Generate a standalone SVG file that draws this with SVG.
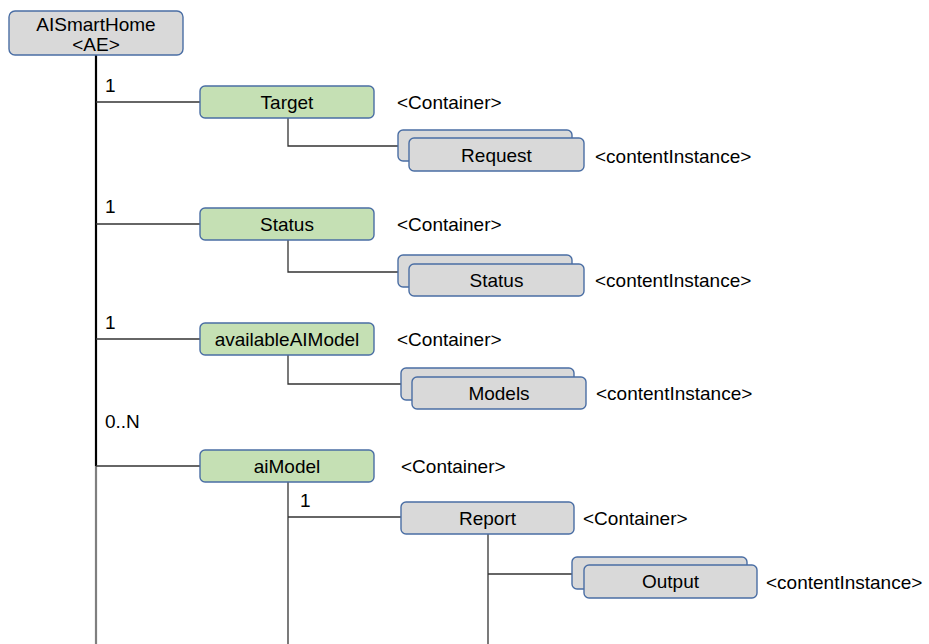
<svg xmlns="http://www.w3.org/2000/svg" width="929" height="644" viewBox="0 0 929 644">
  <style>
    text { font-family: "Liberation Sans", Arial, sans-serif; font-size: 19px; fill: #000; }
    .mid { text-anchor: middle; }
    .box { stroke: #4A6EA4; stroke-width: 1.4; }
    .green { fill: #C5E0B4; }
    .grey { fill: #D9D9D9; }
    .link { fill: none; stroke: #333; stroke-width: 1.3; }
  </style>

  <!-- connectors -->
  <g id="connectors">
    <path d="M96 55 V466" fill="none" stroke="#000" stroke-width="2.2"/>
    <path d="M96 466 V644" fill="none" stroke="#7F7F7F" stroke-width="2.2"/>
    <path class="link" d="M96 102 H200"/>
    <path class="link" d="M96 224 H200"/>
    <path class="link" d="M96 339 H200"/>
    <path class="link" d="M96 466 H200"/>
    <path class="link" d="M288 118 V146 H398"/>
    <path class="link" d="M288 240 V272 H398"/>
    <path class="link" d="M288 355 V384 H401"/>
    <path class="link" d="M288 482 V644"/>
    <path class="link" d="M288 517 H401"/>
    <path class="link" d="M488 534 V644"/>
    <path class="link" d="M488 574 H572"/>
    <text x="105" y="92">1</text>
    <text x="105" y="213">1</text>
    <text x="105" y="329">1</text>
    <text x="105" y="428">0..N</text>
    <text x="300" y="507">1</text>
  </g>

  <g id="aismarthome">
    <rect class="box grey" x="9" y="11" width="174" height="44" rx="6"/>
    <text class="mid" x="96" y="31">AISmartHome</text>
    <text class="mid" x="96" y="50.5">&lt;AE&gt;</text>
  </g>

  <g id="target">
    <rect class="box green" x="200" y="86" width="174" height="32" rx="5"/>
    <text class="mid" x="287" y="109">Target</text>
    <text x="397" y="109">&lt;Container&gt;</text>
  </g>
  <g id="request">
    <rect class="box grey" x="398" y="130" width="174" height="31" rx="5"/>
    <rect class="box grey" x="409" y="138" width="175" height="33" rx="5"/>
    <text class="mid" x="496.5" y="161.5">Request</text>
    <text x="595" y="163">&lt;contentInstance&gt;</text>
  </g>

  <g id="status">
    <rect class="box green" x="200" y="208" width="174" height="32" rx="5"/>
    <text class="mid" x="287" y="230.5">Status</text>
    <text x="397" y="230.5">&lt;Container&gt;</text>
  </g>
  <g id="status-instance">
    <rect class="box grey" x="398" y="255" width="174" height="32" rx="5"/>
    <rect class="box grey" x="409" y="264" width="175" height="32" rx="5"/>
    <text class="mid" x="496.5" y="287">Status</text>
    <text x="595" y="287">&lt;contentInstance&gt;</text>
  </g>

  <g id="availableaimodel">
    <rect class="box green" x="200" y="323" width="174" height="32" rx="5"/>
    <text class="mid" x="287" y="345.5">availableAIModel</text>
    <text x="397" y="346">&lt;Container&gt;</text>
  </g>
  <g id="models">
    <rect class="box grey" x="401" y="368" width="173" height="32" rx="5"/>
    <rect class="box grey" x="412" y="377" width="174" height="32" rx="5"/>
    <text class="mid" x="499" y="400">Models</text>
    <text x="596" y="400">&lt;contentInstance&gt;</text>
  </g>

  <g id="aimodel">
    <rect class="box green" x="200" y="450" width="174" height="32" rx="5"/>
    <text class="mid" x="287" y="472.5">aiModel</text>
    <text x="401" y="473">&lt;Container&gt;</text>
  </g>
  <g id="report">
    <rect class="box grey" x="401" y="502" width="173" height="32" rx="5"/>
    <text class="mid" x="487.5" y="525">Report</text>
    <text x="583" y="525">&lt;Container&gt;</text>
  </g>
  <g id="output">
    <rect class="box grey" x="572" y="557" width="175" height="32" rx="5"/>
    <rect class="box grey" x="584" y="565" width="173" height="33" rx="5"/>
    <text class="mid" x="670.5" y="588">Output</text>
    <text x="766" y="589">&lt;contentInstance&gt;</text>
  </g>
</svg>
